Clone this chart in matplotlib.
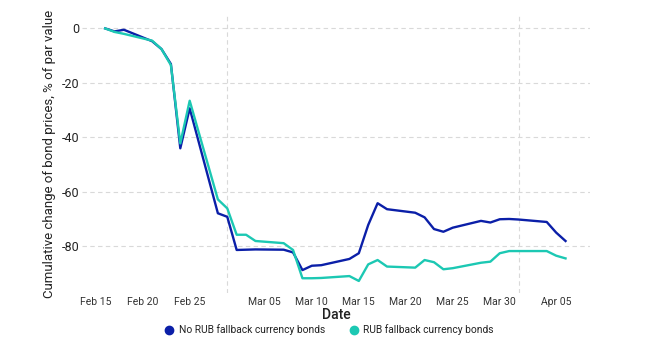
import matplotlib
matplotlib.use("Agg")
import matplotlib.pyplot as plt
import matplotlib.dates as mdates
import pandas as pd

plt.rcParams['font.family'] = ['Roboto', 'DejaVu Sans']
plt.rcParams['axes.unicode_minus'] = False

# business days from Feb 16 to Apr 06 2022
dates = pd.to_datetime([
    "2022-02-16", "2022-02-17", "2022-02-18", "2022-02-21", "2022-02-22",
    "2022-02-23", "2022-02-24", "2022-02-25", "2022-02-28", "2022-03-01",
    "2022-03-02", "2022-03-03", "2022-03-04", "2022-03-07", "2022-03-08",
    "2022-03-09", "2022-03-10", "2022-03-11", "2022-03-14", "2022-03-15",
    "2022-03-16", "2022-03-17", "2022-03-18", "2022-03-21", "2022-03-22",
    "2022-03-23", "2022-03-24", "2022-03-25", "2022-03-28", "2022-03-29",
    "2022-03-30", "2022-03-31", "2022-04-01", "2022-04-04", "2022-04-05",
    "2022-04-06",
])

no_rub = [0, -1.1, -0.5, -4.7, -7.6,
          -13.1, -44.1, -29.4, -68.0, -69.3,
          -81.5, -81.4, -81.3, -81.4, -82.4,
          -88.9, -87.3, -87.1, -84.8, -82.7,
          -72.3, -64.3, -66.5, -67.8, -69.5,
          -73.8, -74.8, -73.3, -70.8, -71.4,
          -70.2, -70.1, -70.3, -71.2, -75.1,
          -78.2]

rub = [0, -1.3, -2.0, -4.5, -7.6,
       -13.5, -42.3, -26.6, -62.9, -66.2,
       -75.9, -75.9, -78.2, -79.0, -81.5,
       -91.9, -91.9, -91.8, -91.1, -92.9,
       -86.8, -85.2, -87.6, -88.0, -85.2,
       -86.0, -88.6, -88.2, -86.2, -85.8,
       -82.7, -81.9, -81.9, -81.9, -83.6,
       -84.6]

labels = ["No RUB fallback currency bonds", "RUB fallback currency bonds"]
colors = ["#0b1fa8", "#1cc8b3"]

fig = plt.figure(figsize=(6.51, 3.43), dpi=100)
ax = fig.add_axes([0.126, 0.146, 0.78, 0.81])

ax.plot(dates, no_rub, color=colors[0], lw=1.7)
ax.plot(dates, rub, color=colors[1], lw=1.7)

ax.set_xlim(pd.Timestamp("2022-02-13 13:00"), pd.Timestamp("2022-04-08 14:00"))
ax.set_ylim(-97.3, 4.9)
ax.set_yticks([0, -20, -40, -60, -80])

ax.xaxis.set_major_locator(mdates.DayLocator(bymonthday=[5, 10, 15, 20, 25, 30]))
ax.xaxis.set_major_formatter(mdates.DateFormatter("%b %d"))
ax.xaxis.set_minor_locator(mdates.MonthLocator())

ax.grid(axis='y', which='major', color='#d9d9d9', ls=(0, (4, 3)), lw=0.8)
ax.grid(axis='x', which='minor', color='#d9d9d9', ls=(0, (4, 3)), lw=0.8)
ax.set_axisbelow(True)

for s in ax.spines.values():
    s.set_visible(False)
ax.tick_params(axis='both', which='both', length=0)
ax.tick_params(axis='x', labelsize=7.5, colors='#333333', pad=3)
ax.tick_params(axis='y', labelsize=9, colors='#222222', pad=2)

ax.set_xlabel("Date", fontsize=10, fontweight='medium', color='#222222', labelpad=1)
ax.set_ylabel("Cumulative change of bond prices, % of par value", fontsize=9.5,
              color='#222222', labelpad=4)

handles = [plt.Line2D([], [], marker='o', ls='', color=c, markersize=6) for c in colors]
fig.legend(handles, labels, loc='center', bbox_to_anchor=(0.506, 0.038), ncol=2,
           frameon=False, fontsize=7.4, handlelength=0.8, handletextpad=0.5,
           columnspacing=2.4, labelcolor='#222222')

fig.savefig("out.png", dpi=100)
